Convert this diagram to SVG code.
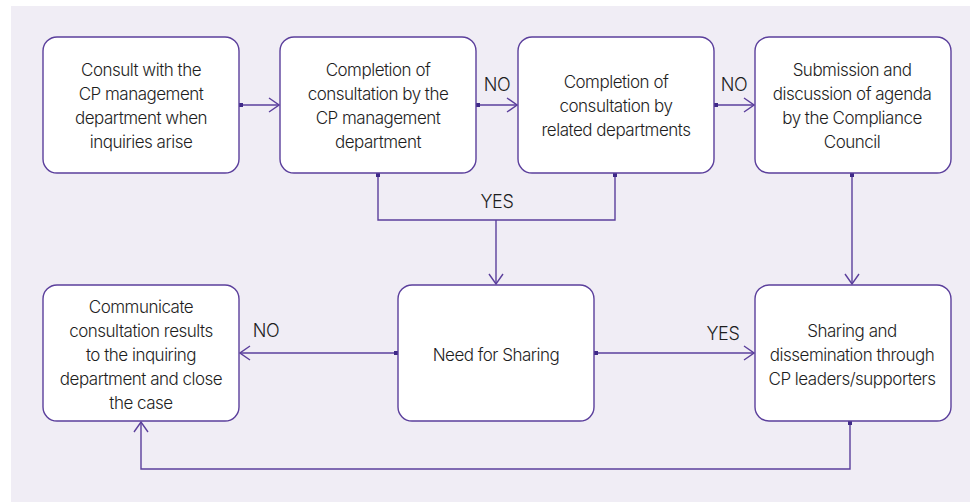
<svg xmlns="http://www.w3.org/2000/svg" width="970" height="502" viewBox="0 0 970 502">
  <style>
    .node rect { fill: #ffffff; stroke: #5b3f9c; stroke-width: 1.4; }
    .node text, .label { font-family: Inter, "Noto Sans", "Liberation Sans", sans-serif; font-size: 17px; font-weight: 300; fill: #1e1e1e; text-anchor: middle; letter-spacing: -0.5px; }
    .label { font-size: 18px; letter-spacing: -0.3px; }
    .edge { fill: none; stroke: #5b3f9c; stroke-width: 1.4; }
  </style>
  <defs>
    <marker id="arrow" viewBox="0 0 12 16" refX="11" refY="8" markerWidth="12" markerHeight="16" markerUnits="userSpaceOnUse" orient="auto">
      <path d="M1 1 L11 8 L1 15" fill="none" stroke="#5b3f9c" stroke-width="1.4"/>
    </marker>
    <marker id="dot" viewBox="0 0 4 4" refX="2" refY="2" markerWidth="4" markerHeight="4" markerUnits="userSpaceOnUse" orient="auto">
      <rect x="0" y="0" width="4" height="4" fill="#3f2a88"/>
    </marker>
  </defs>

  <!-- panel -->
  <rect x="11" y="6" width="959" height="496" fill="#f0edf5"/>

  <!-- connectors -->
  <g id="connectors">
    <path class="edge" d="M241 105 H279" marker-start="url(#dot)" marker-end="url(#arrow)"/>
    <path class="edge" d="M478 105 H517" marker-start="url(#dot)" marker-end="url(#arrow)"/>
    <path class="edge" d="M716 105 H754" marker-start="url(#dot)" marker-end="url(#arrow)"/>
    <path class="edge" d="M378 175 V220 H615 V175" marker-start="url(#dot)" marker-end="url(#dot)"/>
    <path class="edge" d="M496 220 V284" marker-end="url(#arrow)"/>
    <path class="edge" d="M852 175 V284" marker-start="url(#dot)" marker-end="url(#arrow)"/>
    <path class="edge" d="M396 353 H240" marker-start="url(#dot)" marker-end="url(#arrow)"/>
    <path class="edge" d="M596 353 H754" marker-start="url(#dot)" marker-end="url(#arrow)"/>
    <path class="edge" d="M850 423 V469 H141 V422" marker-start="url(#dot)" marker-end="url(#arrow)"/>
    <text class="label" x="497" y="91">NO</text>
    <text class="label" x="734" y="91">NO</text>
    <text class="label" x="497" y="208">YES</text>
    <text class="label" x="266" y="337">NO</text>
    <text class="label" x="723" y="340">YES</text>
  </g>

  <g id="n1" class="node">
    <rect x="43" y="37" width="196" height="136" rx="14"/>
    <text x="141" y="76">Consult with the</text>
    <text x="141" y="100">CP management</text>
    <text x="141" y="124">department when</text>
    <text x="141" y="148">inquiries arise</text>
  </g>
  <g id="n2" class="node">
    <rect x="280" y="37" width="196" height="136" rx="14"/>
    <text x="378" y="76">Completion of</text>
    <text x="378" y="100">consultation by the</text>
    <text x="378" y="124">CP management</text>
    <text x="378" y="148">department</text>
  </g>
  <g id="n3" class="node">
    <rect x="518" y="37" width="196" height="136" rx="14"/>
    <text x="616" y="88">Completion of</text>
    <text x="616" y="112">consultation by</text>
    <text x="616" y="136">related departments</text>
  </g>
  <g id="n4" class="node">
    <rect x="755" y="37" width="196" height="136" rx="14"/>
    <text x="852" y="76">Submission and</text>
    <text x="852" y="100">discussion of agenda</text>
    <text x="852" y="124">by the Compliance</text>
    <text x="852" y="148">Council</text>
  </g>
  <g id="n5" class="node">
    <rect x="43" y="285" width="196" height="136" rx="14"/>
    <text x="141" y="313">Communicate</text>
    <text x="141" y="337">consultation results</text>
    <text x="141" y="361">to the inquiring</text>
    <text x="141" y="385">department and close</text>
    <text x="141" y="409">the case</text>
  </g>
  <g id="n6" class="node">
    <rect x="398" y="285" width="196" height="136" rx="14"/>
    <text x="496" y="361">Need for Sharing</text>
  </g>
  <g id="n7" class="node">
    <rect x="755" y="285" width="196" height="136" rx="14"/>
    <text x="852" y="337">Sharing and</text>
    <text x="852" y="361">dissemination through</text>
    <text x="852" y="385">CP leaders/supporters</text>
  </g>
</svg>
